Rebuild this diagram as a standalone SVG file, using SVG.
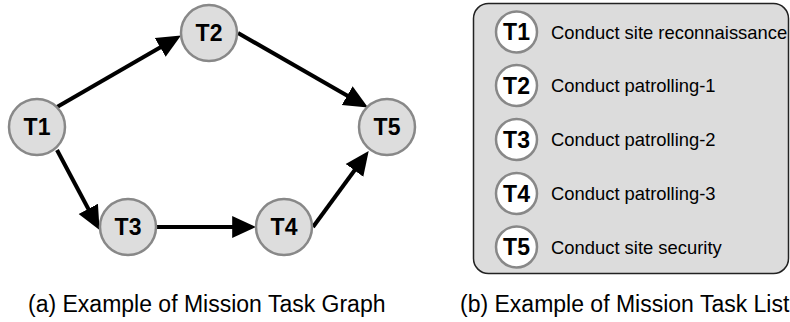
<svg xmlns="http://www.w3.org/2000/svg" width="790" height="322" viewBox="0 0 790 322">
<style>
.node{fill:#dddddd;stroke:#888888;stroke-width:2.5}
.lbl{font-family:"Liberation Sans",Arial,sans-serif;font-weight:bold;font-size:23px;fill:#000;text-anchor:middle}
.edge{stroke:#000;stroke-width:4;fill:none;marker-end:url(#ah)}
.snode{fill:#ffffff;stroke:#888888;stroke-width:2.5}
.slbl{font-family:"Liberation Sans",Arial,sans-serif;font-weight:bold;font-size:23px;fill:#000;text-anchor:middle}
.desc{font-family:"Liberation Sans",Arial,sans-serif;font-size:18.4px;fill:#000}
.cap{font-family:"Liberation Sans",Arial,sans-serif;font-size:23px;fill:#000}
</style>
<defs>
<marker id="ah" markerUnits="userSpaceOnUse" markerWidth="24" markerHeight="24" viewBox="0 -11 22 22" refX="9" refY="0" orient="auto">
<path d="M0,-10 L22,0 L0,10 z" fill="#000"/>
</marker>
</defs>
<rect width="790" height="322" fill="#ffffff"/>
<g id="connectors">
<line class="edge" x1="57" y1="107" x2="168.7" y2="42.5"/>
<line class="edge" x1="238" y1="33" x2="355.7" y2="100.5"/>
<line class="edge" x1="57" y1="150" x2="92.9" y2="217.5"/>
<line class="edge" x1="157" y1="227" x2="242" y2="227"/>
<line class="edge" x1="313" y1="227" x2="360.3" y2="162.5"/>
</g>
<g id="T1"><circle class="node" cx="37" cy="127" r="28"/><text class="lbl" x="37" y="135">T1</text></g>
<g id="T2"><circle class="node" cx="209" cy="33" r="28"/><text class="lbl" x="209" y="41">T2</text></g>
<g id="T3"><circle class="node" cx="128" cy="227" r="28"/><text class="lbl" x="128" y="235">T3</text></g>
<g id="T4"><circle class="node" cx="284" cy="227" r="28"/><text class="lbl" x="284" y="235">T4</text></g>
<g id="T5"><circle class="node" cx="387" cy="127" r="28"/><text class="lbl" x="387" y="135">T5</text></g>
<g id="task-list">
<rect x="473.5" y="3.5" width="315" height="270" rx="15" ry="15" fill="#dcdcdc" stroke="#222222" stroke-width="1.5"/>
<g id="L1"><circle class="snode" cx="516.5" cy="32" r="20.5"/><text class="slbl" x="516.5" y="40">T1</text><text class="desc" x="551" y="38.5">Conduct site reconnaissance</text></g>
<g id="L2"><circle class="snode" cx="516.5" cy="85.5" r="20.5"/><text class="slbl" x="516.5" y="93.5">T2</text><text class="desc" x="551" y="92">Conduct patrolling-1</text></g>
<g id="L3"><circle class="snode" cx="516.5" cy="139.5" r="20.5"/><text class="slbl" x="516.5" y="147.5">T3</text><text class="desc" x="551" y="146">Conduct patrolling-2</text></g>
<g id="L4"><circle class="snode" cx="516.5" cy="193.5" r="20.5"/><text class="slbl" x="516.5" y="201.5">T4</text><text class="desc" x="551" y="200">Conduct patrolling-3</text></g>
<g id="L5"><circle class="snode" cx="516.5" cy="247" r="20.5"/><text class="slbl" x="516.5" y="255">T5</text><text class="desc" x="551" y="253.5">Conduct site security</text></g>
</g>
<text class="cap" x="28" y="312">(a) Example of Mission Task Graph</text>
<text class="cap" x="460" y="312">(b) Example of Mission Task List</text>
</svg>
